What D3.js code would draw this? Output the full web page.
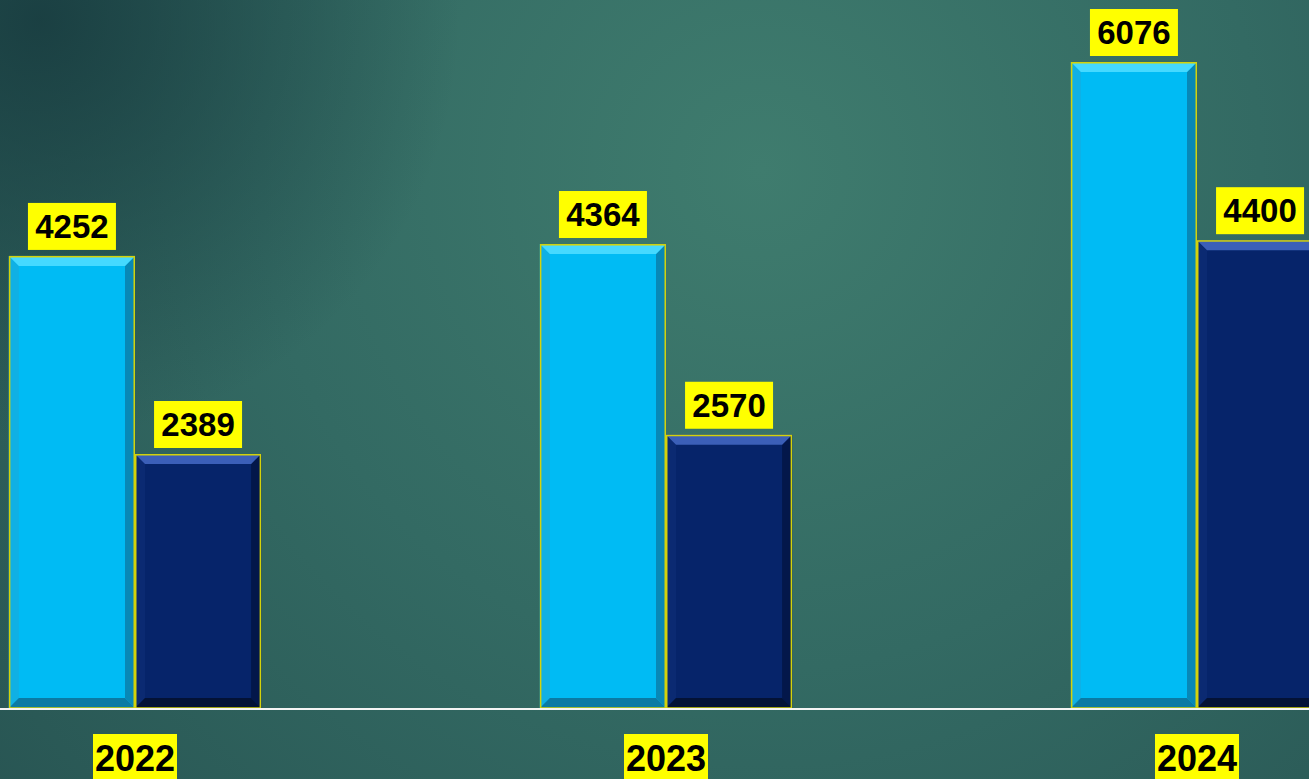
<!DOCTYPE html>
<html>
<head>
<meta charset="utf-8">
<script src="https://cdn.jsdelivr.net/npm/d3@7"></script>
<style>
  html, body { margin: 0; padding: 0; overflow: hidden; background: #2c5a58; }
  svg { display: block; }
</style>
</head>
<body>
<div id="chart"></div>
<script>
/**
 * DATA
 * */
const years = ["2022", "2023", "2024"];
const seriesNames = ["light", "dark"];
const lightValues = [4252, 4364, 6076];
const darkValues = [2389, 2570, 4400];

/**
 * CONSTANTS
 * */
const width = 1309,
  height = 779,
  baseline = 708,
  bevel = 10;

const palette = {
  light: { face: "#00bbf4", top: "#45d9ff", left: "#10b0e4", right: "#0888b6", bottom: "#0a7aa4" },
  dark: { face: "#06246a", top: "#3b5fb8", left: "#0b2a72", right: "#03174a", bottom: "#031236" }
};

// flatten into rows
const rows = [];
years.forEach((y, i) => {
  rows.push({ year: y, series: "light", value: lightValues[i] });
  rows.push({ year: y, series: "dark", value: darkValues[i] });
});

/**
 * SCALES
 * */
const x0 = d3
  .scaleBand()
  .domain(years)
  .range([-130.5, 1462.5])
  .paddingInner(0.525)
  .paddingOuter(0.2625);

const x1 = d3
  .scaleBand()
  .domain(seriesNames)
  .range([0, x0.bandwidth()]);

const y = d3
  .scaleLinear()
  .domain([0, 6076])
  .range([baseline, 62]);

/**
 * SVG
 * */
const svg = d3
  .select("#chart")
  .append("svg")
  .attr("width", width)
  .attr("height", height);

const defs = svg.append("defs");
const bg = defs
  .append("radialGradient")
  .attr("id", "bg")
  .attr("gradientUnits", "userSpaceOnUse")
  .attr("cx", 760)
  .attr("cy", 170)
  .attr("r", 1000);
bg.append("stop").attr("offset", "0%").attr("stop-color", "#3f7c6e");
bg.append("stop").attr("offset", "50%").attr("stop-color", "#336a63");
bg.append("stop").attr("offset", "100%").attr("stop-color", "#285553");

const corner = defs
  .append("radialGradient")
  .attr("id", "corner")
  .attr("gradientUnits", "userSpaceOnUse")
  .attr("cx", 40)
  .attr("cy", 20)
  .attr("r", 420);
corner.append("stop").attr("offset", "0%").attr("stop-color", "#173a3e").attr("stop-opacity", 0.85);
corner.append("stop").attr("offset", "100%").attr("stop-color", "#173a3e").attr("stop-opacity", 0);

svg
  .append("rect")
  .attr("width", width)
  .attr("height", height)
  .attr("fill", "url(#bg)");
svg
  .append("rect")
  .attr("width", width)
  .attr("height", height)
  .attr("fill", "url(#corner)");

// BARS
svg
  .selectAll(".bar")
  .data(rows)
  .join("g")
  .attr("class", "bar")
  .each(function(d) {
    const g = d3.select(this);
    const x = x0(d.year) + x1(d.series);
    const w = x1.bandwidth();
    const top = y(d.value);
    const bot = baseline;
    const c = palette[d.series];
    const b = bevel;

    g.append("rect")
      .attr("x", x)
      .attr("y", top)
      .attr("width", w)
      .attr("height", bot - top)
      .attr("fill", c.face);

    // bevel edges
    const faces = [
      { fill: c.left, pts: [[x, top], [x + b, top + b], [x + b, bot - b], [x, bot]] },
      { fill: c.right, pts: [[x + w, top], [x + w - b, top + b], [x + w - b, bot - b], [x + w, bot]] },
      { fill: c.top, pts: [[x, top], [x + w, top], [x + w - b, top + b], [x + b, top + b]] },
      { fill: c.bottom, pts: [[x, bot], [x + w, bot], [x + w - b, bot - b], [x + b, bot - b]] }
    ];
    g.selectAll("polygon")
      .data(faces)
      .join("polygon")
      .attr("points", f => f.pts.map(p => p.join(",")).join(" "))
      .attr("fill", f => f.fill);

    g.append("rect")
      .attr("x", x + 0.75)
      .attr("y", top + 0.75)
      .attr("width", w - 1.5)
      .attr("height", bot - top - 0.75)
      .attr("fill", "none")
      .attr("stroke", "#d4d20a")
      .attr("stroke-width", 1.5);

    // value label
    const cx = x + w / 2;
    g.append("rect")
      .attr("x", cx - 44)
      .attr("y", top - 53)
      .attr("width", 88)
      .attr("height", 47)
      .attr("fill", "#ffff00");
    g.append("text")
      .attr("x", cx)
      .attr("y", top - 18)
      .attr("text-anchor", "middle")
      .attr("font-family", "'Liberation Sans', Arial, sans-serif")
      .attr("font-weight", 700)
      .attr("font-size", 33)
      .attr("fill", "#000")
      .text(d.value);
  });

// baseline
svg
  .append("line")
  .attr("x1", 0)
  .attr("x2", width)
  .attr("y1", baseline + 1)
  .attr("y2", baseline + 1)
  .attr("stroke", "#f4f4f4")
  .attr("stroke-width", 2);

// year labels
const yearLabels = svg
  .selectAll(".year")
  .data(years)
  .join("g")
  .attr("class", "year");

yearLabels
  .append("rect")
  .attr("x", d => x0(d) + x0.bandwidth() / 2 - 42)
  .attr("y", 734)
  .attr("width", 84)
  .attr("height", 60)
  .attr("fill", "#ffff00");

yearLabels
  .append("text")
  .attr("x", d => x0(d) + x0.bandwidth() / 2)
  .attr("y", 771)
  .attr("text-anchor", "middle")
  .attr("font-family", "'Liberation Sans', Arial, sans-serif")
  .attr("font-weight", 700)
  .attr("font-size", 36)
  .attr("fill", "#000")
  .text(d => d);
</script>
</body>
</html>
